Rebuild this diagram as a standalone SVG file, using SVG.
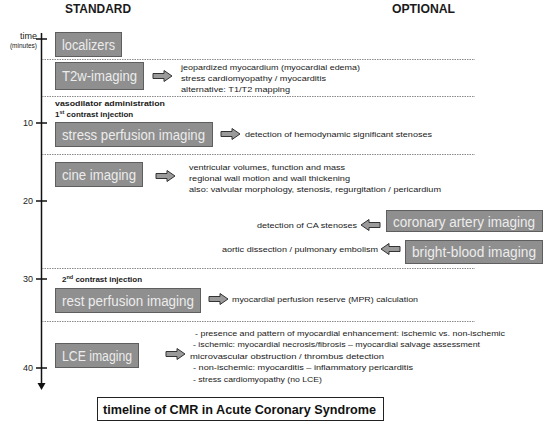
<svg xmlns="http://www.w3.org/2000/svg" width="545" height="422" viewBox="0 0 545 422">
<style>
.hdr{font-family:"Liberation Sans",Arial,sans-serif;font-weight:bold;font-size:12px;fill:#1a1a1a}
.ax{font-family:"Liberation Sans",Arial,sans-serif;font-size:9px;fill:#222}
.axs{font-family:"Liberation Sans",Arial,sans-serif;font-size:6.5px;fill:#222}
.box{fill:#8f8f8f;stroke:#5e5e5e;stroke-width:1}
.bl{font-family:"Liberation Sans",Arial,sans-serif;font-size:14px;fill:#ececec}
.t{font-family:"Liberation Sans",Arial,sans-serif;font-size:8px;fill:#1a1a1a}
.tb{font-family:"Liberation Sans",Arial,sans-serif;font-size:8px;font-weight:bold;fill:#1a1a1a}
.dot{stroke:#8a8a8a;stroke-width:1;stroke-dasharray:1.5 1;fill:none}
.arr{fill:#9a9a9a;stroke:#333;stroke-width:1}
.tick{stroke:#111;stroke-width:1.5}
</style>
<defs>
<path id="ra" d="M0,-2.5 H11 V-5.5 L19,0 L11,5.5 V2.5 H0 Z"/>
<path id="la" d="M19,-2.5 H8 V-5.5 L0,0 L8,5.5 V2.5 H19 Z"/>
<marker id="ah" markerWidth="8" markerHeight="8" refX="4" refY="6" orient="auto-start-reverse" markerUnits="userSpaceOnUse">
<path d="M0,0 L8,0 L4,7 Z" fill="#111" transform="rotate(0)"/>
</marker>
</defs>

<g id="headers">
<text class="hdr" x="65" y="13" textLength="66" lengthAdjust="spacingAndGlyphs">STANDARD</text>
<text class="hdr" x="392" y="13" textLength="63" lengthAdjust="spacingAndGlyphs">OPTIONAL</text>
</g>

<g id="axis">
<text class="ax" x="37" y="39" text-anchor="end">time</text>
<text class="axs" x="37" y="48" text-anchor="end">(minutes)</text>
<line x1="41.5" y1="33" x2="41.5" y2="386" stroke="#111" stroke-width="1.5"/>
<path d="M37.5,383 L45.5,383 L41.5,390 Z" fill="#111"/>
<line class="tick" x1="36" y1="39" x2="47" y2="39"/>
<line class="tick" x1="36" y1="123" x2="47" y2="123"/>
<line class="tick" x1="36" y1="201" x2="47" y2="201"/>
<line class="tick" x1="36" y1="279" x2="47" y2="279"/>
<line class="tick" x1="36" y1="368" x2="47" y2="368"/>
<text class="ax" x="33" y="126" text-anchor="end">10</text>
<text class="ax" x="33" y="204" text-anchor="end">20</text>
<text class="ax" x="33" y="282" text-anchor="end">30</text>
<text class="ax" x="33" y="371" text-anchor="end">40</text>
</g>

<g id="separators">
<line class="dot" x1="42" y1="59.5" x2="475" y2="59.5"/>
<line class="dot" x1="42" y1="96.5" x2="475" y2="96.5"/>
<line class="dot" x1="42" y1="154.5" x2="475" y2="154.5"/>
<line class="dot" x1="42" y1="268.5" x2="475" y2="268.5"/>
<line class="dot" x1="42" y1="321.5" x2="475" y2="321.5"/>
</g>

<g id="localizers">
<rect class="box" x="55.5" y="32.5" width="66" height="24"/>
<text class="bl" x="62" y="50" textLength="53" lengthAdjust="spacingAndGlyphs">localizers</text>
</g>

<g id="t2w">
<rect class="box" x="55.5" y="62.5" width="88" height="27"/>
<text class="bl" x="62" y="81" textLength="75" lengthAdjust="spacingAndGlyphs">T2w-imaging</text>
<text class="t" x="181" y="70" textLength="179" lengthAdjust="spacingAndGlyphs">jeopardized myocardium (myocardial edema)</text>
<text class="t" x="181" y="81" textLength="145" lengthAdjust="spacingAndGlyphs">stress cardiomyopathy / myocarditis</text>
<text class="t" x="181" y="92" textLength="109" lengthAdjust="spacingAndGlyphs">alternative: T1/T2 mapping</text>
</g>

<g id="contrast1">
<text class="tb" x="55" y="106" textLength="110" lengthAdjust="spacingAndGlyphs">vasodilator administration</text>
<text class="tb" x="55" y="117">1<tspan font-size="5.5" dy="-3">st</tspan><tspan dy="3"> contrast injection</tspan></text>
</g>

<g id="stress">
<rect class="box" x="55.5" y="122.5" width="157" height="24"/>
<text class="bl" x="62" y="140" textLength="143" lengthAdjust="spacingAndGlyphs">stress perfusion imaging</text>
<text class="t" x="245" y="137" textLength="187" lengthAdjust="spacingAndGlyphs">detection of hemodynamic significant stenoses</text>
</g>

<g id="cine">
<rect class="box" x="55.5" y="162.5" width="87" height="24"/>
<text class="bl" x="62" y="180" textLength="74" lengthAdjust="spacingAndGlyphs">cine imaging</text>
<text class="t" x="189" y="170" textLength="156" lengthAdjust="spacingAndGlyphs">ventricular volumes, function and mass</text>
<text class="t" x="189" y="181" textLength="161" lengthAdjust="spacingAndGlyphs">regional wall motion and wall thickening</text>
<text class="t" x="189" y="192" textLength="252" lengthAdjust="spacingAndGlyphs">also: valvular morphology, stenosis, regurgitation / pericardium</text>
</g>

<g id="coronary">
<rect class="box" x="386.5" y="210.5" width="156" height="21"/>
<text class="bl" x="393" y="227" textLength="142" lengthAdjust="spacingAndGlyphs">coronary artery imaging</text>
<text class="t" x="357" y="228" text-anchor="end" textLength="100" lengthAdjust="spacingAndGlyphs">detection of CA stenoses</text>
</g>

<g id="brightblood">
<rect class="box" x="405.5" y="240.5" width="137" height="23"/>
<text class="bl" x="412" y="257" textLength="124" lengthAdjust="spacingAndGlyphs">bright-blood imaging</text>
<text class="t" x="378" y="252" text-anchor="end" textLength="156" lengthAdjust="spacingAndGlyphs">aortic dissection / pulmonary embolism</text>
</g>

<g id="contrast2">
<text class="tb" x="62" y="282">2<tspan font-size="5.5" dy="-3">nd</tspan><tspan dy="3"> contrast injection</tspan></text>
</g>

<g id="rest">
<rect class="box" x="55.5" y="288.5" width="145" height="24"/>
<text class="bl" x="62" y="306" textLength="132" lengthAdjust="spacingAndGlyphs">rest perfusion imaging</text>
<text class="t" x="232" y="302" textLength="186" lengthAdjust="spacingAndGlyphs">myocardial perfusion reserve (MPR) calculation</text>
</g>

<g id="lce">
<rect class="box" x="55.5" y="343.5" width="83" height="24"/>
<text class="bl" x="62" y="361" textLength="70" lengthAdjust="spacingAndGlyphs">LCE imaging</text>
<text class="t" x="195" y="336" textLength="310" lengthAdjust="spacingAndGlyphs">- presence and pattern of myocardial enhancement: ischemic vs. non-ischemic</text>
<text class="t" x="193" y="347" textLength="287" lengthAdjust="spacingAndGlyphs">- ischemic: myocardial necrosis/fibrosis – myocardial salvage assessment</text>
<text class="t" x="190" y="359" textLength="194" lengthAdjust="spacingAndGlyphs">microvascular obstruction / thrombus detection</text>
<text class="t" x="193" y="370" textLength="220" lengthAdjust="spacingAndGlyphs">- non-ischemic: myocarditis – inflammatory pericarditis</text>
<text class="t" x="193" y="382" textLength="129" lengthAdjust="spacingAndGlyphs">- stress cardiomyopathy (no LCE)</text>
</g>

<g id="connectors">
<use href="#ra" class="arr" x="153" y="76"/>
<use href="#ra" class="arr" x="221" y="134"/>
<use href="#ra" class="arr" x="156" y="176"/>
<use href="#la" class="arr" x="361" y="225"/>
<use href="#la" class="arr" x="381" y="249"/>
<use href="#ra" class="arr" x="209" y="299"/>
<use href="#ra" class="arr" x="166" y="354"/>
</g>

<g id="title">
<rect x="97.5" y="397.5" width="286" height="23" fill="#fff" stroke="#222" stroke-width="1"/>
<text x="103" y="414" font-family="'Liberation Sans',Arial,sans-serif" font-weight="bold" font-size="13" fill="#111" textLength="273" lengthAdjust="spacingAndGlyphs">timeline of CMR in Acute Coronary Syndrome</text>
</g>
</svg>
